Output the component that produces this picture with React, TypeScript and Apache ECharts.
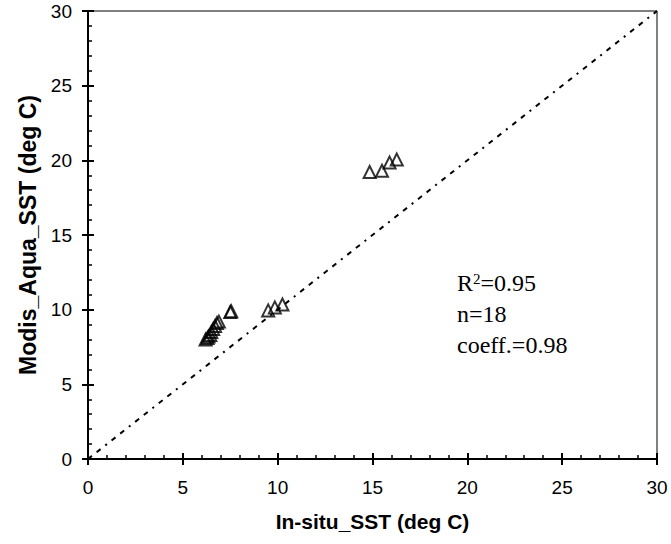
import React, { useEffect, useRef } from "react";
import * as echarts from "echarts";

const insituSST = [6.2, 6.3, 6.35, 6.45, 6.5, 6.6, 6.7, 6.8, 6.9, 7.5, 7.55, 9.5, 9.85, 10.25, 14.85, 15.5, 15.9, 16.28];
const modisSST = [8.0, 8.1, 8.2, 8.3, 8.5, 8.7, 8.9, 9.1, 9.2, 9.85, 9.9, 9.95, 10.15, 10.35, 19.22, 19.3, 19.85, 20.05];
const oneToOne = [[0, 0], [30, 30]];
const statsLines = ["R{sup|2}=0.95", "n=18", "coeff.=0.98"];
const xTitle = "In-situ_SST (deg C)";
const yTitle = "Modis_Aqua_SST (deg C)";

const sans = "'Liberation Sans', Arial, sans-serif";
const serif = "'Liberation Serif', 'Times New Roman', serif";

export default function App() {
  const ref = useRef<HTMLDivElement>(null);
  useEffect(() => {
    if (!ref.current) return;
    const chart = echarts.init(ref.current, undefined, { renderer: "svg" });
    const points = insituSST.map((x, i) => [x, modisSST[i]]);
    const axisCommon = {
      type: "value",
      min: 0,
      max: 30,
      interval: 5,
      splitLine: { show: false },
    };
    const option = {
      animation: false,
      backgroundColor: "#fff",
      grid: {
        left: 88,
        right: 14,
        top: 11,
        bottom: 85,
        show: true,
        borderColor: "#000",
        borderWidth: 1,
        backgroundColor: "transparent",
      },
      xAxis: [
        {
          ...axisCommon,
          position: "bottom",
          name: xTitle,
          nameLocation: "middle",
          nameGap: 52,
          nameTextStyle: { fontFamily: sans, fontWeight: "bold", fontSize: 21, color: "#000" },
          axisLine: { show: true, onZero: false, lineStyle: { color: "#000", width: 2 } },
          axisTick: { show: true, inside: true, length: 6, lineStyle: { color: "#000", width: 2 } },
          minorTick: { show: true, splitNumber: 5, length: 4, lineStyle: { color: "#000", width: 1.5 } },
          axisLabel: { margin: 19, fontFamily: sans, fontSize: 19, color: "#000" },
        },
        {
          ...axisCommon,
          position: "bottom",
          axisLine: { show: false, onZero: false },
          axisTick: { show: true, inside: false, length: 6, lineStyle: { color: "#000", width: 2 } },
          axisLabel: { show: false },
        },
      ],
      yAxis: [
        {
          ...axisCommon,
          position: "left",
          name: yTitle,
          nameLocation: "middle",
          nameGap: 46,
          nameTextStyle: { fontFamily: sans, fontWeight: "bold", fontSize: 23, color: "#000" },
          axisLine: { show: true, onZero: false, lineStyle: { color: "#000", width: 2 } },
          axisTick: { show: true, inside: true, length: 6, lineStyle: { color: "#000", width: 2 } },
          minorTick: { show: true, splitNumber: 5, length: 4, lineStyle: { color: "#000", width: 1.5 } },
          axisLabel: { margin: 16, fontFamily: sans, fontSize: 19, color: "#000" },
        },
        {
          ...axisCommon,
          position: "left",
          axisLine: { show: false, onZero: false },
          axisTick: { show: true, inside: false, length: 6, lineStyle: { color: "#000", width: 2 } },
          axisLabel: { show: false },
        },
      ],
      series: [
        {
          type: "line",
          data: oneToOne,
          xAxisIndex: 0,
          yAxisIndex: 0,
          symbol: "none",
          lineStyle: { color: "#000", width: 2, type: [5, 6, 5, 6, 2, 6] },
          silent: true,
        },
        {
          type: "scatter",
          data: points,
          xAxisIndex: 0,
          yAxisIndex: 0,
          symbol: "triangle",
          symbolSize: 12,
          itemStyle: { color: "rgba(0,0,0,0)", borderColor: "#000", borderWidth: 2 },
        },
      ],
      graphic: statsLines.map((t, i) => ({
        type: "text",
        x: 457,
        y: 283 + i * 31,
        style: {
          text: t,
          fontFamily: serif,
          fontSize: 24,
          fill: "#000",
          verticalAlign: "middle",
          align: "left",
          rich: {
            sup: { fontFamily: serif, fontSize: 15, lineHeight: 15, verticalAlign: "top", fill: "#000" },
          },
        },
      })),
    };
    chart.setOption(option as any);
    return () => chart.dispose();
  }, []);
  return (
    <div
      ref={ref}
      style={{ position: "fixed", left: 0, top: 0, width: 671, height: 544, background: "#fff" }}
    />
  );
}
